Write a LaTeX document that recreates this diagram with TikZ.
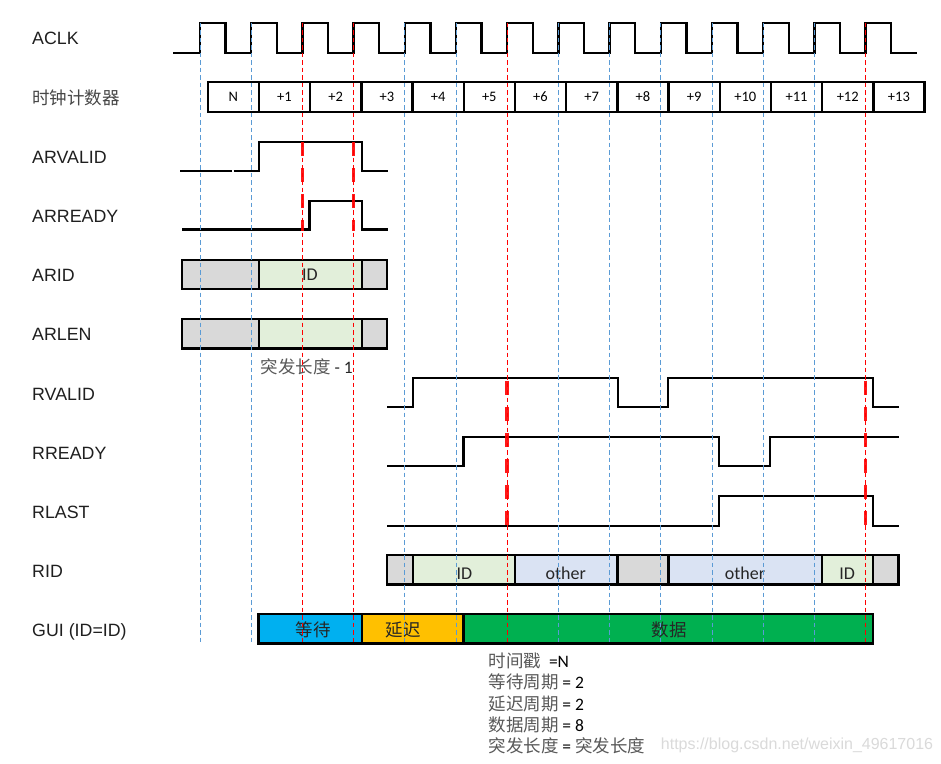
\documentclass[tikz,border=0pt]{standalone}
\usepackage{fontspec}
\setmainfont{Liberation Sans}
\newfontfamily\cjkf{Noto Sans CJK SC}
\newfontfamily\calf{Carlito}
\newfontfamily\labf{Liberation Sans}
\definecolor{dblue}{HTML}{5B9BD5}
\definecolor{gfill}{HTML}{D9D9D9}
\definecolor{lgreen}{HTML}{E2EFDA}
\definecolor{lblue}{HTML}{DAE3F3}
\definecolor{guiblue}{HTML}{00B0F0}
\definecolor{guiorange}{HTML}{FFC000}
\definecolor{guigreen}{HTML}{00B050}
\definecolor{cjkgray}{HTML}{595959}
\definecolor{wmgray}{HTML}{DADADA}
\tikzset{
  sig/.style={line width=2.4pt, line join=miter},
  cnt/.style={draw, line width=2.4pt, minimum width=51.2pt, minimum height=30pt, inner sep=0pt,
              font=\calf\fontsize{14.5}{16}\selectfont},
  seg/.style={draw, line width=2.4pt},
  bluedash/.style={draw=dblue, line width=1pt, dash pattern=on 4.5pt off 3pt},
  reddash/.style={draw=red, line width=1pt, dash pattern=on 4.5pt off 3pt},
  thickred/.style={draw=red, line width=3.5pt, dash pattern=on 14pt off 12pt, opacity=0.9},
  lbl/.style={anchor=west, inner sep=0pt, text height=12.8pt, text depth=0pt,
              text=black!88, font=\labf\fontsize{17.8}{20}\selectfont},
  boxtxt/.style={inner sep=0pt, text height=12pt, text depth=0pt, text=black!85,
              font=\calf\fontsize{18}{20}\selectfont},
  guitxt/.style={inner sep=0pt, text height=13pt, text depth=1pt, text=black!85,
              font=\cjkf\fontsize{17.5}{20}\selectfont},
  note/.style={anchor=west, inner sep=0pt, text height=13pt, text depth=1pt,
              font=\calf\fontsize{17.5}{20}\selectfont},
}
\begin{document}
\begin{tikzpicture}[x=1pt,y=-1pt]
\useasboundingbox (0,0) rectangle (941,763);
\fill[white] (0,0) rectangle (941,763);

% ---- labels
\node[lbl] (L0) at (32,38.5) {ACLK};
\node[lbl, text=cjkgray!80!black, font=\cjkf\fontsize{17.5}{20}\selectfont] (L1) at (32,97.7) {时钟计数器};
\node[lbl] (L2) at (32,156.9) {ARVALID};
\node[lbl] (L3) at (32,216.1) {ARREADY};
\node[lbl] (L4) at (32,275.3) {ARID};
\node[lbl] (L5) at (32,334.5) {ARLEN};
\node[lbl] (L6) at (32,393.7) {RVALID};
\node[lbl] (L7) at (32,452.9) {RREADY};
\node[lbl] (L8) at (32,512.1) {RLAST};
\node[lbl] (L9) at (32,571.3) {RID};
\node[lbl] (L10) at (32,630.5) {GUI (ID=ID)};

% ---- clock
\draw[sig] (173,52.7) foreach \k in {0,...,13} {
   -- ({200+51.2*\k},52.7) -- ({200+51.2*\k},22.7)
   -- ({225.5+51.2*\k},22.7) -- ({225.5+51.2*\k},52.7) } -- (916.7,52.7);

% ---- counter
\foreach \k/\t in {0/N,1/+1,2/+2,3/+3,4/+4,5/+5,6/+6,7/+7,8/+8,9/+9,10/+10,11/+11,12/+12,13/+13}
  \node[cnt] (c\k) at ({233.3+51.2*\k},96.7) {\t};

% ---- ARVALID / ARREADY
\draw[sig] (180,170.7) -- (232,170.7);
\draw[sig] (233.5,170.7) -- (258.7,170.7) -- (258.7,141.7) -- (362,141.7) -- (362,170.7) -- (387.7,170.7);
\draw[sig] (182.3,229.3) -- (309.3,229.3) -- (309.3,200.7) -- (362,200.7) -- (362,229.3) -- (387.7,229.3);

% ---- ARID / ARLEN
\draw[seg, fill=gfill] (181.7,259.7) rectangle (259,288.7);
\draw[seg, fill=lgreen] (259,259.7) rectangle (362,288.7);
\draw[seg, fill=gfill] (362,259.7) rectangle (387,288.7);
\node[boxtxt] (aridtxt) at (310,274.2) {ID};
\draw[seg, fill=gfill] (181.7,319) rectangle (259,348.3);
\draw[seg, fill=lgreen] (259,319) rectangle (362,348.3);
\draw[seg, fill=gfill] (362,319) rectangle (387,348.3);
\node[guitxt, text=cjkgray] (arlentxt) at (306.7,367) {突发长度 {\calf\color{black!85}- 1}};

% ---- RVALID / RREADY / RLAST
\draw[sig] (387,407) -- (413,407) -- (413,377.7) -- (617.7,377.7) -- (617.7,407) -- (668,407)
   -- (668,377.7) -- (873,377.7) -- (873,407) -- (898.5,407);
\draw[sig] (387,466) -- (463.4,466) -- (463.4,436.7) -- (719,436.7) -- (719,466) -- (770.2,466)
   -- (770.2,436.7) -- (898.5,436.7);
\draw[sig] (387,525.7) -- (719,525.7) -- (719,495.7) -- (873,495.7) -- (873,525.7) -- (898.5,525.7);

% ---- RID
\draw[seg, fill=gfill] (387,555) rectangle (413,584.5);
\draw[seg, fill=lgreen] (413,555) rectangle (514.7,584.5);
\draw[seg, fill=lblue] (514.7,555) rectangle (617.5,584.5);
\draw[seg, fill=gfill] (617.5,555) rectangle (668.5,584.5);
\draw[seg, fill=lblue] (668.5,555) rectangle (822,584.5);
\draw[seg, fill=lgreen] (822,555) rectangle (872.7,584.5);
\draw[seg, fill=gfill] (872.7,555) rectangle (898.5,584.5);
\node[boxtxt] (rid1) at (464.5,573) {ID};
\node[boxtxt] (rid2) at (565.7,573) {other};
\node[boxtxt] (rid3) at (745,573) {other};
\node[boxtxt] (rid4) at (847.2,573) {ID};

% ---- GUI
\draw[seg, fill=guiblue] (258.3,614) rectangle (362,643.3);
\draw[seg, fill=guiorange] (362,614) rectangle (463.3,643.3);
\draw[seg, fill=guigreen] (463.3,614) rectangle (873,643.3);
\node[guitxt] (g1) at (313,630) {等待};
\node[guitxt] (g2) at (403.3,630) {延迟};
\node[guitxt] (g3) at (669.4,630) {数据};

% ---- notes
\node[note] (n1) at (488.3,661) {{\cjkf\color{cjkgray}时间戳}\hspace{8pt}=N};
\node[note] (n2) at (488.3,682.5) {{\cjkf\color{cjkgray}等待周期} = 2};
\node[note] (n3) at (488.3,704) {{\cjkf\color{cjkgray}延迟周期} = 2};
\node[note] (n4) at (488.3,725.5) {{\cjkf\color{cjkgray}数据周期} = 8};
\node[note] (n5) at (488.3,746.5) {{\cjkf\color{cjkgray}突发长度} = {\cjkf\color{cjkgray}突发长度}};
\node[anchor=west, inner sep=0pt, text=wmgray, font=\labf\fontsize{16}{18}\selectfont] (wm) at (660.7,745) {https://blog.csdn.net/weixin\_49617016};

% ---- vertical dashed guides
\foreach \k in {0,...,13} {
  \coordinate (t\k) at ({200+51.2*\k},22.7);
  \coordinate (b\k) at ({200+51.2*\k},641.7);
}
\foreach \k in {0,1,4,5,7,8,9,10,11,12} \draw[bluedash] (t\k) -- (b\k);
\foreach \k in {2,3,6,13} \draw[reddash] (t\k) -- (b\k);

% ---- thick red markers
\coordinate (m1a) at (302.4,142); \coordinate (m1b) at (302.4,230.7);
\coordinate (m2a) at (353.6,142); \coordinate (m2b) at (353.6,230.7);
\coordinate (m3a) at (507.2,380.7); \coordinate (m3b) at (507.2,525);
\coordinate (m4a) at (865.6,380.7); \coordinate (m4b) at (865.6,525);
\draw[thickred] (m1a) -- (m1b);
\draw[thickred] (m2a) -- (m2b);
\draw[thickred] (m3a) -- (m3b);
\draw[thickred] (m4a) -- (m4b);
\end{tikzpicture}
\end{document}
